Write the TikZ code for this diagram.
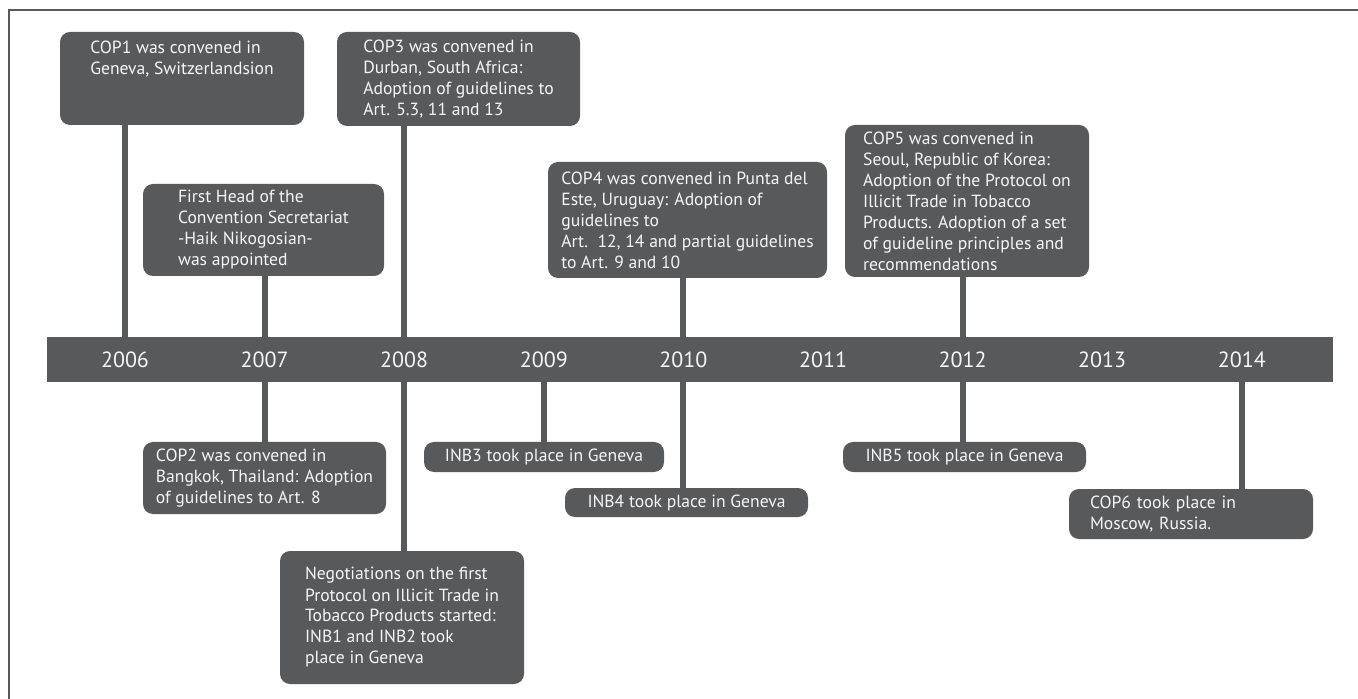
\documentclass[tikz,border=0pt]{standalone}
\usepackage{fontspec}
\setmainfont{PT Sans}
\usepackage{tikz}
\usetikzlibrary{calc,positioning}
\definecolor{SlateGray}{HTML}{58595B}
\definecolor{PaleText}{HTML}{F6F6F6}

\begin{document}
\begin{tikzpicture}[x=0.5pt,y=-0.5pt,
    evbox/.style={fill=SlateGray,rounded corners=5pt,text=PaleText,align=left,
      inner sep=0pt,outer sep=0pt,font=\fontsize{8.8}{10.5}\selectfont},
    yearlbl/.style={text=PaleText,font=\fontsize{11}{13}\selectfont},
    stem/.style={SlateGray,line width=3pt},
    frameln/.style={SlateGray,line width=1pt}]
  \useasboundingbox (0,0) rectangle (1358,699);
  \draw[frameln] (9,699) -- (9,10) -- (1358,10);
  \node[fill=SlateGray,minimum width=643pt,minimum height=22.5pt,inner sep=0pt] (bar) at (690,359.5) {};
  \foreach \yr [count=\i from 0] in {2006,2007,2008,2009,2010,2011,2012,2013,2014}
    \node[yearlbl] (y\yr) at (125+139.6*\i,360) {\yr};
  % above the bar
  \node[evbox,minimum width=122pt,minimum height=46.5pt] (cop1) at (182,78.5)
    {COP1 was convened in\\Geneva, Switzerlandsion\\\mbox{}\\\mbox{}};
  \node[evbox,minimum width=120.5pt,minimum height=46pt] (head) at (263.5,230)
    {First Head of the\\Convention Secretariat\\-Haik Nikogosian-\\was appointed};
  \node[evbox,minimum width=121.5pt,minimum height=47pt] (cop3) at (458.5,79)
    {COP3 was convened in\\Durban, South Africa:\\Adoption of guidelines to\\Art. 5.3, 11 and 13};
  \node[evbox,minimum width=139.5pt,minimum height=58pt] (cop4) at (687.5,220)
    {COP4 was convened in Punta del\\Este, Uruguay: Adoption of\\guidelines to\\Art.\ \ 12, 14 and partial guidelines\\to Art. 9 and 10};
  \node[evbox,minimum width=122pt,minimum height=76pt] (cop5) at (967,201)
    {COP5 was convened in\\Seoul, Republic of Korea:\\Adoption of the Protocol on\\Illicit Trade in Tobacco\\Products. Adoption of a set\\of guideline principles and\\recommendations};
  % below the bar
  \node[evbox,minimum width=121.5pt,minimum height=36pt] (cop2) at (264.5,478)
    {COP2 was convened in\\Bangkok, Thailand: Adoption\\of guidelines to Art. 8};
  \node[evbox,minimum width=122pt,minimum height=66.5pt] (nego) at (402,617.5)
    {Negotiations on the first\\Protocol on Illicit Trade in\\Tobacco Products started:\\INB1 and INB2 took\\place in Geneva};
  \node[evbox,minimum width=120pt,minimum height=15pt] (inb3) at (544,457) {INB3 took place in Geneva};
  \node[evbox,minimum width=121.5pt,minimum height=14.5pt] (inb4) at (686.5,502.5) {INB4 took place in Geneva};
  \node[evbox,minimum width=121.5pt,minimum height=15pt] (inb5) at (964.5,457) {INB5 took place in Geneva};
  \node[evbox,text width=101pt,inner xsep=10.5pt,minimum height=25pt] (cop6) at (1191,514)
    {COP6 took place in\\Moscow, Russia.};
  \draw[stem] (y2006 |- bar.north) -- (y2006 |- cop1.south);
  \draw[stem] (y2007 |- bar.north) -- (y2007 |- head.south);
  \draw[stem] (y2008 |- bar.north) -- (y2008 |- cop3.south);
  \draw[stem] (y2010 |- bar.north) -- (y2010 |- cop4.south);
  \draw[stem] (y2012 |- bar.north) -- (y2012 |- cop5.south);
  \draw[stem] (y2007 |- bar.south) -- (y2007 |- cop2.north);
  \draw[stem] (y2008 |- bar.south) -- (y2008 |- nego.north);
  \draw[stem] (y2009 |- bar.south) -- (y2009 |- inb3.north);
  \draw[stem] (y2010 |- bar.south) -- (y2010 |- inb4.north);
  \draw[stem] (y2012 |- bar.south) -- (y2012 |- inb5.north);
  \draw[stem] (y2014 |- bar.south) -- (y2014 |- cop6.north);
\end{tikzpicture}
\end{document}
